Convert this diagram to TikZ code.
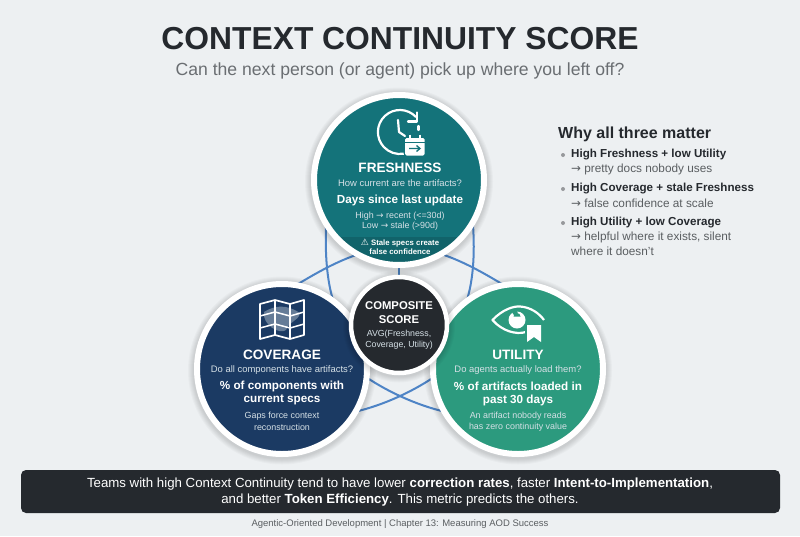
\documentclass[tikz,border=0pt]{standalone}
\usepackage{fontspec}
\setmainfont{Liberation Sans}
\newfontfamily\symfont{DejaVu Sans}
\usetikzlibrary{calc}
\definecolor{bgc}{HTML}{EDF0F2}
\definecolor{ink}{HTML}{25292E}
\definecolor{subc}{HTML}{6A6E72}
\definecolor{tealc}{HTML}{14737A}
\definecolor{tealdk}{HTML}{11636A}
\definecolor{navyc}{HTML}{1B3A63}
\definecolor{greenc}{HTML}{2C9A7E}
\definecolor{linkc}{HTML}{4E84C6}
\definecolor{softw}{HTML}{D5E0E6}
\newcommand{\fs}[1]{\fontsize{#1}{#1}\selectfont}
\newcommand{\arr}{{\symfont\char"2192}}
\newcommand{\softshadow}[3]{\foreach \k in {1,...,6}{\fill[black,opacity=.022] (#1,#2+1.5) circle ({#3+\k});}}
\tikzset{
  x=1pt,y=-1pt,
  ring/.style={circle,draw=white,line width=6pt,minimum size=170pt,inner sep=0pt},
  link/.style={draw=linkc,line width=2pt},
  lbl/.style={inner sep=0pt,align=center,text=white},
  head/.style={lbl,font=\bfseries\fs{13.6}},
  ask/.style={lbl,text=softw,font=\fs{9.45}},
  metric/.style={lbl,font=\bfseries\fs{11.7}},
  note/.style={lbl,text=softw,font=\fs{8.9}},
  why/.style={inner sep=0pt,anchor=west,text=ink,font=\bfseries\fs{11.6}},
  whysub/.style={inner sep=0pt,anchor=west,text=subc!85!black,font=\fs{11.8}},
  dot/.style={circle,fill=subc!70,inner sep=0pt,minimum size=4pt},
  icon/.style={draw=white,line width=2.2pt,line join=round},
  thin icon/.style={draw=white,line width=1.5pt,line join=round},
}
\begin{document}
\begin{tikzpicture}
\useasboundingbox (0,0) rectangle (800,536);
\fill[bgc] (0,0) rectangle (800,536);

% Title
\node[inner sep=0pt,text=ink,font=\bfseries\fs{31.8}] (title) at (400,39) {CONTEXT CONTINUITY SCORE};
\node[inner sep=0pt,text=subc,font=\fs{17.6}] (subtitle) at (400,71) {Can the next person (or agent) pick up where you left off?};

% Blue links behind the circles
\coordinate (la) at (326,225); \coordinate (lb) at (333,300);
\coordinate (ra) at (473,225); \coordinate (rb) at (467,300);
\coordinate (lc) at (298,284); \coordinate (ld) at (356,255);
\coordinate (rc) at (444,255); \coordinate (rd) at (502,284);
\coordinate (ta) at (399,262); \coordinate (tb) at (399,282);
\coordinate (ba) at (366,377); \coordinate (bb) at (446,412);
\coordinate (bc) at (354,412); \coordinate (bd) at (434,377);
\draw[link] (la) .. controls (325,255) and (327,280) .. (lb);
\draw[link] (ra) .. controls (475,255) and (473,280) .. (rb);
\draw[link] (lc) .. controls (318,272) and (336,262) .. (ld);
\draw[link] (rc) .. controls (464,262) and (482,272) .. (rd);
\draw[link] (ta) -- (tb);
\draw[link] (ba) .. controls (385,390) and (415,405) .. (bb);
\draw[link] (bc) .. controls (385,405) and (415,390) .. (bd);

% Freshness
\softshadow{399}{180}{88}
\fill[tealc] (399,180) circle (85);
\begin{scope}
  \clip (399,180) circle (85);
  \fill[tealdk] (300,237) rectangle (500,270);
\end{scope}
\node[ring] (fresh) at (399,180) {};
\draw[icon] (416,117) arc[start angle=-43,end angle=-280,radius=22];
\draw[icon,line cap=round] (408,121.5) -- (417,121.5) -- (417,112.5);
\draw[icon,line cap=round] (398,120) -- (399,132) -- (405,136);
\draw[icon,line cap=round] (418.5,126) -- (418.5,130);
\fill[white,rounded corners=1.5pt] (405,138) rectangle (424.5,155.5);
\draw[white,line width=1.8pt] (410,134.5) -- (410,139) (420,134.5) -- (420,139);
\draw[tealc,line width=.8pt] (405,142) -- (425,142);
\draw[tealc,line width=1.3pt] (409,148.5) -- (420,148.5) (416.5,145.5) -- (420,148.5) -- (416.5,151.5);
\node[head] (freshhead) at (400,168) {FRESHNESS};
\node[ask] (freshask) at (400,183) {How current are the artifacts?};
\node[metric] (freshmetric) at (400,200) {Days since last update};
\node[note] (freshhigh) at (400,216) {High \arr{} recent (<=30d)};
\node[note] (freshlow) at (400,226.5) {Low \arr{} stale (>90d)};
\node[lbl,font=\bfseries\fs{7.8}] (freshwarn) at (400,243) {{\symfont\fontsize{9}{9}\selectfont ⚠} Stale specs create};
\node[lbl,font=\bfseries\fs{7.8}] (freshwarnb) at (400,252) {false confidence};

% Coverage
\softshadow{282}{369}{88}
\node[ring,fill=navyc] (cover) at (282,369) {};
\fill[softw,opacity=.4] (264,312) .. controls (280,302) and (292,308) .. (300,313) .. controls (298,322) and (290,320) .. (286,330) .. controls (280,335) and (262,325) .. (264,312) -- cycle;
\draw[thin icon,line width=1.7pt] (260,304) -- (275,300) -- (290,304) -- (304,300) -- (304,335) -- (290,339) -- (275,335) -- (260,339) -- cycle;
\draw[thin icon] (275,300) -- (275,335) (290,304) -- (290,339);
\draw[thin icon] (260,316) -- (275,312) -- (290,316) -- (304,312);
\draw[thin icon] (260,328) -- (275,324) -- (290,328) -- (304,324);
\node[head] (coverhead) at (282,355) {COVERAGE};
\node[ask] (coverask) at (282,370) {Do all components have artifacts?};
\node[metric] (covermetric) at (282,386) {\% of components with};
\node[metric] (covermetricb) at (282,400) {current specs};
\node[note] (covernote) at (282,416) {Gaps force context};
\node[note] (covernoteb) at (282,427) {reconstruction};

% Utility
\softshadow{518}{369}{88}
\node[ring,fill=greenc] (util) at (518,369) {};
\draw[icon] (526,332) .. controls (516,335) and (502,331) .. (492.5,320) .. controls (503,309) and (514,306) .. (520,306.5) .. controls (530,307) and (539,313) .. (544,320);
\fill[white] (517,320) circle (8.5);
\fill[greenc] (513.5,316.5) arc[start angle=180,end angle=360,radius=3.5] -- cycle;
\fill[greenc] (515,312.5) circle (2.6);
\fill[greenc] (525,323) rectangle (543,344);
\fill[white] (527,325) -- (541,325) -- (541,342) -- (534,337) -- (527,342) -- cycle;
\node[head] (utilhead) at (518,355) {UTILITY};
\node[ask] (utilask) at (518,370) {Do agents actually load them?};
\node[metric] (utilmetric) at (518,386) {\% of artifacts loaded in};
\node[metric] (utilmetricb) at (518,400) {past 30 days};
\node[note] (utilnote) at (518,416) {An artifact nobody reads};
\node[note] (utilnoteb) at (518,427) {has zero continuity value};

% Composite
\softshadow{399}{325}{50}
\node[circle,draw=white,line width=4.5pt,fill=ink,minimum size=96pt,inner sep=0pt] (comp) at (399,325) {};
\node[lbl,font=\bfseries\fs{11.3}] (comphead) at (399,306) {COMPOSITE};
\node[lbl,font=\bfseries\fs{11.3}] (compheadb) at (399,320) {SCORE};
\node[lbl,text=softw,font=\fs{8.8}] (compavg) at (399,334.5) {AVG(Freshness,};
\node[lbl,text=softw,font=\fs{8.8}] (compavgb) at (399,345) {Coverage, Utility)};

% Why panel
\node[inner sep=0pt,anchor=west,text=ink,font=\bfseries\fs{16}] (whyhead) at (558,134) {Why all three matter};
\node[dot] (da) at (563,155) {};
\node[why] (wa) at (571,155) {High Freshness + low Utility};
\node[whysub] (wb) at (571,169) {\arr{} pretty docs nobody uses};
\node[dot] (db) at (563,189) {};
\node[why] (wc) at (571,189) {High Coverage + stale Freshness};
\node[whysub] (wd) at (571,203) {\arr{} false confidence at scale};
\node[dot] (dc) at (563,223) {};
\node[why] (we) at (571,223) {High Utility + low Coverage};
\node[whysub] (wf) at (571,237.5) {\arr{} helpful where it exists, silent};
\node[whysub] (wg) at (571,251.5) {where it doesn't};

% Bottom banner
\fill[ink,rounded corners=5pt] (21,470) rectangle (780,513);
\node[lbl,font=\fs{13.25}] (bannera) at (400,484) {Teams with high Context Continuity tend to have lower \textbf{correction rates}, faster \textbf{Intent-to-Implementation},};
\node[lbl,font=\fs{13.25}] (bannerb) at (400,500) {and better \textbf{Token Efficiency}. This metric predicts the others.};
\node[inner sep=0pt,text=subc!85!black,font=\fs{9.5}] (footer) at (400,524) {Agentic-Oriented Development | Chapter 13: Measuring AOD Success};
\end{tikzpicture}
\end{document}
